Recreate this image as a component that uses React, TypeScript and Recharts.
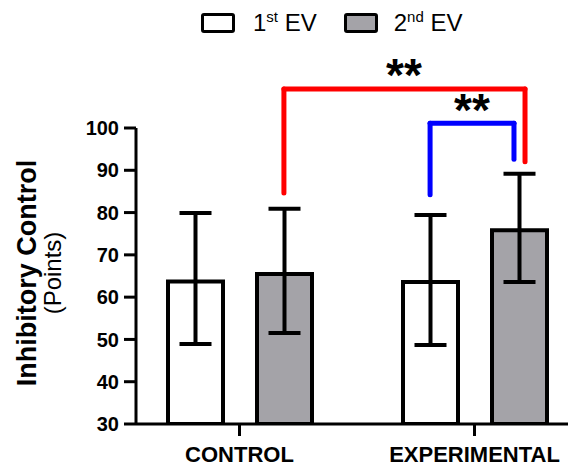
import {
  BarChart,
  Bar,
  XAxis,
  YAxis,
  ErrorBar,
  Legend,
  ReferenceLine,
  ReferenceDot,
} from "recharts";

const FONT = '"Liberation Sans", Arial, Helvetica, sans-serif';

const categories = ["CONTROL", "EXPERIMENTAL"];
const firstEvMeans = [63.7, 63.6];
const secondEvMeans = [65.5, 75.8];
// [below, above] lengths of the error bars
const firstEvErrors = [[14.8, 16.2], [14.9, 15.8]];
const secondEvErrors = [[14.0, 15.4], [12.2, 13.4]];
const yTicks = [30, 40, 50, 60, 70, 80, 90, 100];

// significance brackets: x as a fraction of the span of both groups, y in points
const bracketX = [[0.3445, 0.8575], [0.6555, 0.834]];
const bracketY = [[84.6, 109.2, 92.0], [84.2, 101.1, 92.6]]; // left end, top, right end
const bracketColors = ["#ff0000", "#0000ff"];
const starX = [0.6, 0.7445];
const starY = [112.5, 104.4];

const GRAY = "#a4a3a8";

const data = categories.map((group, i) => ({
  group,
  ev1: firstEvMeans[i],
  ev2: secondEvMeans[i],
  ev1Err: firstEvErrors[i],
  ev2Err: secondEvErrors[i],
}));

const LegendBox = ({ fill }: { fill: string }) => (
  <span
    style={{
      display: "inline-block",
      width: 34,
      height: 20,
      border: "3.5px solid #000",
      borderRadius: 3,
      background: fill,
      boxSizing: "border-box",
    }}
  />
);

const supStyle = { fontSize: 15, verticalAlign: "super", lineHeight: 0 } as const;

const LegendContent = () => (
  <div
    style={{
      display: "flex",
      alignItems: "center",
      height: 45,
      paddingLeft: 201,
      fontFamily: FONT,
      fontSize: 24,
      color: "#000",
    }}
  >
    <LegendBox fill="#fff" />
    <span style={{ marginLeft: 18 }}>
      1<sup style={supStyle}>st</sup> EV
    </span>
    <span style={{ marginLeft: 27 }} />
    <LegendBox fill={GRAY} />
    <span style={{ marginLeft: 16 }}>
      2<sup style={supStyle}>nd</sup> EV
    </span>
  </div>
);

const YLabel = (props: any) => {
  const vb = props.viewBox || { x: 0, y: 128, width: 136, height: 296 };
  const cy = vb.y + vb.height / 2 - 3;
  const x1 = vb.x + 36;
  const x2 = vb.x + 61;
  return (
    <g>
      <text
        x={x1}
        y={cy}
        transform={`rotate(-90, ${x1}, ${cy})`}
        textAnchor="middle"
        fontFamily={FONT}
        fontWeight={700}
        fontSize={27}
        fill="#000"
      >
        Inhibitory Control
      </text>
      <text
        x={x2}
        y={cy}
        transform={`rotate(-90, ${x2}, ${cy})`}
        textAnchor="middle"
        fontFamily={FONT}
        fontSize={24}
        fill="#000"
      >
        (Points)
      </text>
    </g>
  );
};

export default function App() {
  const axisStroke = { stroke: "#000", strokeWidth: 3 };
  const xPadding = { left: -14, right: -24 };

  return (
    <div>
      <style>{`body{margin:0}`}</style>
      <BarChart
        width={568}
        height={466}
        data={data}
        margin={{ top: 128, right: 0, bottom: 0, left: 0 }}
        barSize={55}
        barGap={34}
      >
        <XAxis
          dataKey="group"
          height={42}
          padding={xPadding}
          interval={0}
          axisLine={axisStroke}
          tickLine={axisStroke}
          tickSize={12}
          tickMargin={10}
          tick={{ fill: "#000", fontSize: 22, fontWeight: 700, fontFamily: FONT }}
        />
        <XAxis
          xAxisId="pos"
          type="number"
          domain={[0, 1]}
          allowDataOverflow
          hide
          padding={xPadding}
        />
        <YAxis
          width={136}
          domain={[30, 100]}
          ticks={yTicks}
          interval={0}
          allowDataOverflow
          axisLine={axisStroke}
          tickLine={axisStroke}
          tickSize={12}
          tickMargin={5}
          tick={{ fill: "#000", fontSize: 20, fontWeight: 700, fontFamily: FONT }}
          label={YLabel}
        />
        <Legend
          layout="horizontal"
          verticalAlign="middle"
          align="center"
          content={LegendContent}
          wrapperStyle={{ top: 0, left: 0, width: 568, height: 45 }}
        />
        <Bar dataKey="ev1" fill="#fff" stroke="#000" strokeWidth={4} isAnimationActive={false}>
          <ErrorBar dataKey="ev1Err" width={16} stroke="#000" strokeWidth={4} isAnimationActive={false} />
        </Bar>
        <Bar dataKey="ev2" fill={GRAY} stroke="#000" strokeWidth={4} isAnimationActive={false}>
          <ErrorBar dataKey="ev2Err" width={16} stroke="#000" strokeWidth={4} isAnimationActive={false} />
        </Bar>
        {bracketX.map(([xl, xr], i) => {
          const [yl, top, yr] = bracketY[i];
          const segs = [
            [{ x: xl, y: yl }, { x: xl, y: top }],
            [{ x: xl, y: top }, { x: xr, y: top }],
            [{ x: xr, y: top }, { x: xr, y: yr }],
          ];
          return segs.map((segment, j) => (
            <ReferenceLine
              key={`b${i}-${j}`}
              xAxisId="pos"
              segment={segment}
              ifOverflow="visible"
              stroke={bracketColors[i]}
              strokeWidth={5}
              strokeLinecap="round"
            />
          ));
        })}
        {starX.map((x, i) => (
          <ReferenceDot
            key={`s${i}`}
            xAxisId="pos"
            x={x}
            y={starY[i]}
            r={0}
            fill="none"
            stroke="none"
            ifOverflow="visible"
            label={{
              value: "**",
              position: "center",
              fontSize: 46,
              fontWeight: 700,
              fill: "#000",
              fontFamily: FONT,
            }}
          />
        ))}
      </BarChart>
    </div>
  );
}
